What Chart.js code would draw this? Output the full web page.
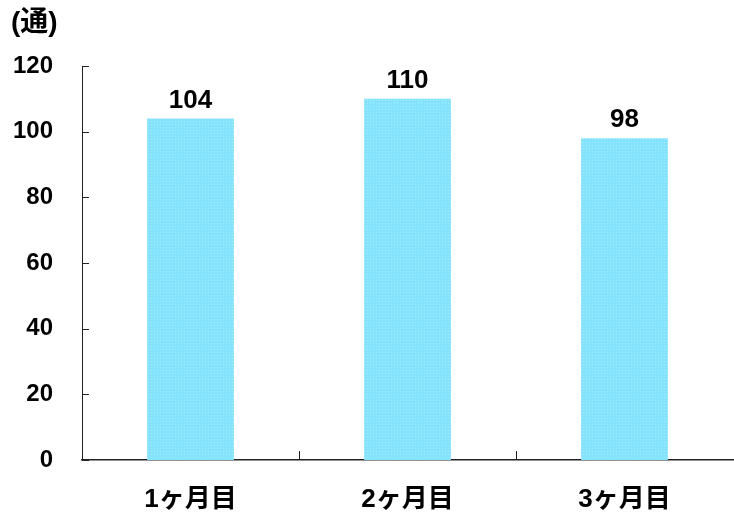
<!DOCTYPE html>
<html lang="ja">
<head>
<meta charset="UTF-8">
<title>通数</title>
<script src="https://cdn.jsdelivr.net/npm/chart.js"></script>
<style>
  html, body { margin: 0; padding: 0; background: #fff; }
  .chart-container { width: 734px; height: 516px; }
</style>
</head>
<body>
<div class="chart-container">
  <canvas id="barChart" width="734" height="516"></canvas>
</div>
<script>
  const categories = ['1ヶ月目', '2ヶ月目', '3ヶ月目'];
  const counts = [104, 110, 98];
  const yTicks = [0, 20, 40, 60, 80, 100, 120];
  const unitLabel = '(通)';

  const FONT = '"Liberation Sans", Arial, "Noto Sans CJK JP", sans-serif';

  // dotted light blue fill like the original
  function makePattern() {
    const c = document.createElement('canvas');
    c.width = 3; c.height = 3;
    const g = c.getContext('2d');
    g.fillStyle = '#84e3fc';
    g.fillRect(0, 0, 3, 3);
    g.fillStyle = '#a6ecfd';
    g.fillRect(1, 1, 1, 1);
    return g.createPattern(c, 'repeat');
  }

  // inward ticks, value labels and unit text
  const extras = {
    id: 'extras',
    afterDraw(chart) {
      const ctx = chart.ctx;
      const x = chart.scales.x, y = chart.scales.y;
      const area = chart.chartArea;
      ctx.save();
      ctx.strokeStyle = '#222';
      ctx.lineWidth = 1;
      yTicks.forEach(v => {
        const py = Math.round(y.getPixelForValue(v)) + 0.5;
        ctx.beginPath();
        ctx.moveTo(area.left, py);
        ctx.lineTo(area.left + 7, py);
        ctx.stroke();
      });
      for (let i = 1; i < categories.length; i++) {
        const px = Math.round((x.getPixelForValue(i - 1) + x.getPixelForValue(i)) / 2) + 0.5;
        ctx.beginPath();
        ctx.moveTo(px, area.bottom);
        ctx.lineTo(px, area.bottom - 9);
        ctx.stroke();
      }
      ctx.fillStyle = '#000';
      ctx.font = 'bold 26px ' + FONT;
      ctx.textAlign = 'center';
      ctx.textBaseline = 'alphabetic';
      chart.getDatasetMeta(0).data.forEach((bar, i) => {
        ctx.fillText(String(counts[i]), bar.x, bar.y - 11);
      });
      ctx.textAlign = 'left';
      ctx.font = 'bold 28px ' + FONT;
      ctx.fillText(unitLabel, 11, 31);
      ctx.restore();
    }
  };

  const ctx = document.getElementById('barChart').getContext('2d');
  new Chart(ctx, {
    type: 'bar',
    data: {
      labels: categories,
      datasets: [{
        data: counts,
        backgroundColor: makePattern(),
        borderWidth: 0,
        categoryPercentage: 1.0,
        barPercentage: 0.4
      }]
    },
    options: {
      responsive: false,
      animation: false,
      layout: { padding: { top: 66, left: 0, right: 1, bottom: 0 } },
      plugins: {
        legend: { display: false },
        tooltip: { enabled: false }
      },
      scales: {
        x: {
          afterFit: scale => { scale.height = 56; },
          grid: { display: false, tickLength: 0 },
          border: { display: true, color: '#222', width: 1.5 },
          ticks: {
            color: '#000',
            padding: 24,
            font: { family: '"Liberation Sans", "Noto Sans CJK JP", sans-serif', size: 26, weight: 'bold' }
          }
        },
        y: {
          min: 0,
          max: 120,
          afterFit: scale => { scale.width = 82; },
          grid: { display: false, tickLength: 0 },
          border: { display: true, color: '#222', width: 1 },
          afterBuildTicks: scale => { scale.ticks = yTicks.map(v => ({ value: v })); },
          ticks: {
            color: '#000',
            padding: 29,
            font: { family: FONT, size: 24, weight: 'bold' }
          }
        }
      }
    },
    plugins: [extras]
  });
</script>
</body>
</html>
